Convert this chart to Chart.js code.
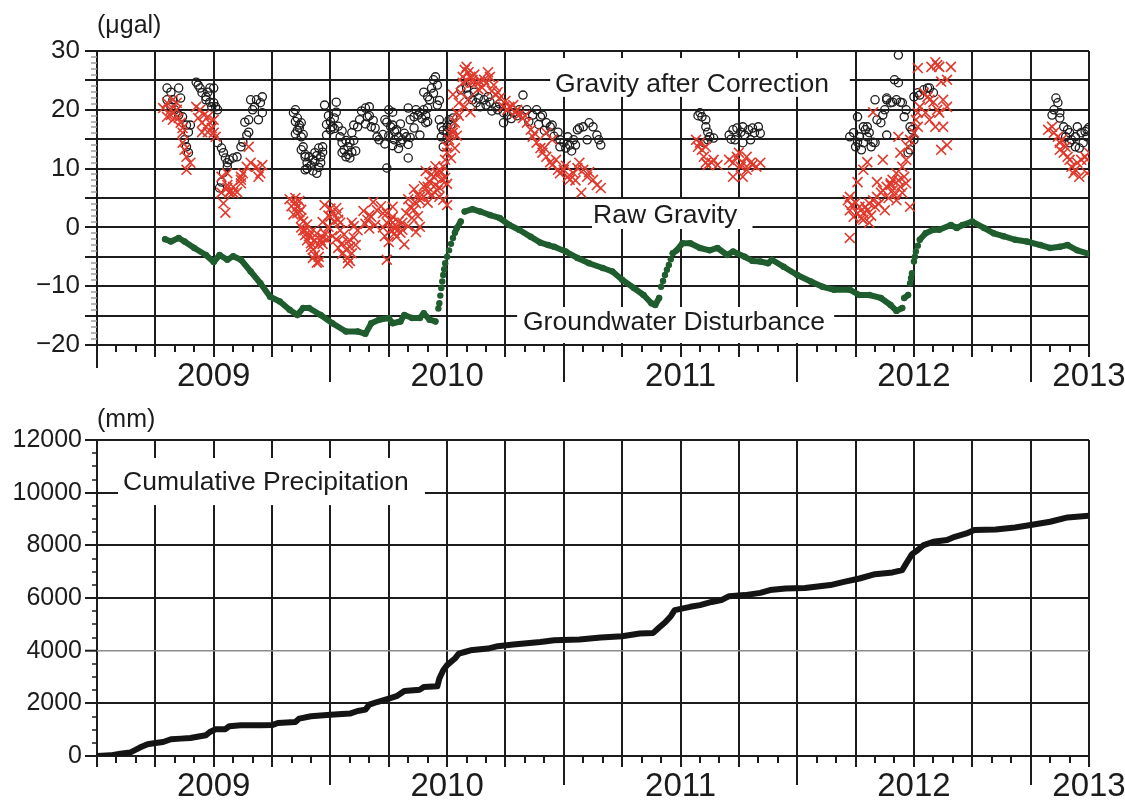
<!DOCTYPE html>
<html>
<head>
<meta charset="utf-8">
<script src="https://cdn.jsdelivr.net/npm/chart.js@4.4.0/dist/chart.umd.min.js"></script>
<style>
  body { margin: 0; background: #fff; }
  canvas { display: block; }
</style>
</head>
<body>
<canvas id="gravity" width="1125" height="400"></canvas>
<canvas id="rain" width="1125" height="401"></canvas>
<script>
// x values are months since 1 Jan 2009 (0 = 2009-01, 51 = 2013-04)
const yearLabels = ["2009", "2010", "2011", "2012", "2013"];
const yearLabelAt = [6, 18, 30, 42, 51];

// Gravity after Correction (open circles), [month, µgal]
const corrected = [
  [3.6,23.7],[3.8,23.0],[4.2,23.7],[3.6,21.7],[3.9,21.7],[4.3,22.0],[3.8,20.5],[4.0,20.0],[4.2,19.1],[4.4,18.8],
  [4.6,17.4],[4.8,17.4],[4.7,16.2],[4.5,14.9],[4.6,13.7],[4.7,12.7],
  [5.1,24.7],[5.2,24.2],[5.3,23.7],[5.4,22.9],[5.6,22.2],[5.7,23.0],[5.8,23.7],[6.0,23.7],[5.6,21.7],[5.8,21.3],
  [6.0,21.2],[6.1,20.5],[6.2,20.0],[5.9,20.5],
  [6.2,14.4],[6.4,13.5],[6.5,12.7],[6.6,11.8],[6.7,11.0],[6.7,10.3],[6.5,9.3],[6.4,7.7],[6.3,6.7],[6.8,11.5],
  [7.0,11.8],[7.2,12.0],[7.4,13.7],[7.5,14.5],[7.7,15.7],[7.8,16.2],[7.9,21.7],[8.0,20.0],[8.2,21.7],[8.4,21.2],
  [8.5,19.5],[8.3,18.3],[7.8,18.3],[7.6,17.9],[8.1,20.5],[8.5,22.2],
  [10.2,20.0],[10.3,18.6],[10.4,17.4],[10.4,16.9],[10.5,15.4],[10.6,13.7],[10.7,12.0],[10.8,11.0],[10.7,9.8],
  [11.1,11.5],[11.2,12.7],[11.4,13.5],[11.5,12.0],[11.6,12.8],[11.6,13.7],[11.3,9.2],[11.8,15.7],[12.0,16.6],
  [12.1,17.1],[12.2,18.6],[12.3,19.6],[12.3,21.3],[12.5,15.4],[12.6,14.4],[12.6,12.7],[12.8,12.0],[12.9,13.7],
  [13.0,14.4],[13.1,16.1],[13.2,17.4],[13.4,17.1],[13.5,18.3],[13.8,20.3],[14.0,20.5],[13.9,18.8],[14.1,17.1],
  [14.4,15.4],[14.5,14.9],[14.9,17.9],[15.2,19.6],[15.2,17.4],[15.3,14.9],[14.9,10.1],
  [14.8,18.3],[15.0,20.0],[15.1,17.1],[15.3,16.3],[15.5,15.4],[15.6,14.4],[15.7,14.9],[15.9,15.4],[16.0,11.8],
  [16.1,18.3],[16.3,18.8],[16.5,19.1],[16.6,19.5],[16.8,20.0],[17.0,20.3],[17.1,21.7],[17.2,23.7],[17.3,25.1],
  [17.4,25.6],[17.5,24.2],[17.5,20.8],[16.6,15.7],[16.3,16.9],[16.9,17.8],[17.6,18.3],[17.7,17.1],[17.7,15.4],
  [17.8,13.7],[18.0,17.1],[18.1,18.3],[18.3,18.6],[18.0,16.1],
  [10.1,19.5],[10.2,18.0],[10.3,16.5],[10.5,17.8],[10.6,15.8],[10.2,15.9],[10.5,13.2],[10.7,12.4],[10.9,12.0],
  [11.0,10.5],[11.2,11.2],[11.4,10.2],[11.5,11.0],[10.8,10.0],[11.1,9.6],[11.3,12.2],[11.7,20.8],[11.9,19.0],
  [12.0,18.0],[12.2,16.8],[11.8,17.5],[12.4,17.2],[12.6,16.4],[12.8,14.8],[12.7,13.2],[12.9,12.4],[13.1,12.8],
  [13.0,11.8],[13.3,13.0],[13.2,14.8],[13.6,19.8],[13.8,17.6],[14.0,19.0],[14.2,18.2],[14.3,16.9],[14.7,15.8],
  [14.8,14.2],[15.0,15.6],[15.2,13.9],[15.4,16.6],[15.5,13.4],[15.6,17.6],[15.8,16.0],[16.0,14.1],[16.1,15.3],
  [16.0,20.3],[16.4,20.0],[16.7,18.5],[16.9,19.0],[17.0,18.0],[16.8,23.0],[17.0,22.2],[17.3,22.8],[17.6,21.6],
  [17.8,16.5],[18.0,15.2],[18.2,17.5],[18.3,15.8],
  [18.7,23.4],[19.0,23.7],[19.2,24.6],[19.3,21.7],[19.5,21.2],[19.7,20.5],[19.9,21.7],[20.1,22.2],[20.2,21.3],
  [20.5,20.5],[20.6,20.0],[20.9,19.5],[20.9,17.8],[21.1,19.1],[21.4,19.5],[21.7,20.0],[21.9,22.5],[22.1,20.0],
  [22.4,19.1],[22.6,20.0],[22.8,18.8],[22.9,19.1],[23.1,17.8],[23.3,17.1],[23.4,17.4],[23.7,16.2],[23.8,14.9],
  [24.0,14.4],[24.2,15.4],[24.3,14.0],[24.5,14.9],[24.7,16.6],[24.8,16.9],[25.0,17.1],[25.2,14.9],[25.3,17.8],
  [25.5,17.1],[25.7,15.7],[25.8,14.9],[25.9,14.0],[23.8,13.7],
  [19.1,22.5],[19.4,23.0],[19.6,22.0],[20.0,20.8],[20.3,19.8],[20.7,21.0],[21.3,18.5],[21.6,19.0],[22.2,18.0],
  [22.7,17.5],[23.0,16.5],[23.5,15.5],[24.1,13.5],[24.4,13.0],[24.6,14.0],
  [31.0,19.5],[31.1,18.8],[31.3,18.3],[31.3,17.1],[31.4,16.2],[31.5,15.4],[31.7,15.2],[31.4,14.9],[31.2,14.4],
  [30.9,19.0],
  [32.5,15.7],[32.7,16.6],[32.9,16.9],[33.1,16.2],[33.2,17.1],[33.3,15.7],[33.5,16.6],[33.7,16.9],[33.8,16.1],
  [34.0,17.1],[32.8,14.9],[33.2,14.4],[33.6,14.9],[34.1,16.0],[32.6,15.0],
  [38.7,15.4],[38.9,16.1],[39.0,13.7],[39.1,14.5],[39.2,15.4],[39.3,13.2],[39.4,14.4],[39.5,16.6],[39.6,17.1],
  [39.6,15.4],[39.7,16.1],[39.8,13.7],[39.9,14.5],[40.0,14.4],[39.1,18.8],[39.4,17.1],[40.0,21.7],[40.1,18.3],
  [40.3,17.8],[40.4,19.1],[40.5,20.0],[40.6,21.7],[40.6,22.0],[40.8,21.2],[40.9,21.3],[41.1,21.7],[41.3,21.3],
  [41.4,21.2],[41.5,18.8],[41.6,20.0],[41.8,17.1],[41.9,16.6],[42.0,14.9],[41.8,13.2],[41.7,12.7],[40.6,15.7],
  [41.0,25.1],[41.2,24.6],[41.2,29.3],[42.0,22.2],[42.2,22.9],[42.3,22.5],[42.5,23.4],[42.7,23.7],[42.8,23.7],
  [43.0,22.9],
  [49.3,22.0],[49.4,21.2],[49.2,20.0],[49.1,19.1],[49.5,19.5],[49.5,18.6],[49.7,17.1],[49.9,16.6],[50.0,16.1],
  [50.1,14.9],[50.3,15.4],[50.4,17.1],[50.6,16.1],[50.7,14.4],[50.9,15.4],[50.9,16.6],[49.8,15.4],[50.0,14.4],
  [50.3,13.7],[50.5,13.5],[50.8,16.3],[51.0,17.0]
];

// Raw Gravity (red crosses), [month, µgal]
const rawGravity = [
  [3.4,20.3],[3.6,21.2],[3.9,21.7],[4.1,21.2],[3.8,19.1],[3.9,18.3],[4.2,18.6],[4.3,17.8],[4.4,16.9],[4.4,16.1],
  [4.4,14.4],[4.5,13.2],[4.6,12.0],[4.6,9.8],[4.8,11.0],[3.8,20.0],[4.1,20.0],[3.6,18.8],
  [5.1,20.5],[5.3,20.0],[5.2,18.6],[5.4,17.8],[5.6,17.1],[5.7,16.2],[5.7,18.8],[5.8,17.8],[5.9,16.9],[6.0,16.1],
  [6.1,15.4],[5.4,16.2],[5.5,19.1],[6.0,18.3],
  [6.4,8.6],[6.7,7.2],[6.8,6.0],[7.0,5.9],[7.4,8.6],[7.5,9.2],[7.7,10.3],[7.9,11.0],[7.8,13.7],[8.2,10.3],
  [8.4,9.2],[8.5,10.6],[8.3,8.6],[7.4,8.1],[6.7,9.2],[6.4,5.9],[6.5,4.1],[6.6,2.5],[6.7,6.7],[6.8,5.9],
  [7.0,6.9],[7.2,6.0],[7.4,7.5],
  [10.2,4.3],[10.3,3.5],[10.4,2.6],[10.3,2.4],[10.5,1.6],[10.6,-0.5],[10.7,-1.3],[10.8,-2.2],[11.0,-2.7],
  [11.1,-3.8],[11.2,-4.7],[11.4,-5.9],[11.5,-2.2],[11.6,-1.7],[11.7,-1.0],[11.9,0.1],[12.0,1.8],[12.1,2.6],
  [12.3,3.3],[12.4,1.3],[12.5,0.8],[12.6,-2.7],[12.8,-3.8],[12.9,-5.2],[12.9,-6.1],[13.0,-3.3],[13.2,-1.7],
  [13.4,-0.5],[13.1,0.8],[13.9,1.3],[14.0,2.1],[14.2,4.3],[14.9,-5.5],[14.9,2.4],[15.2,0.8],[15.3,-1.0],
  [11.6,0.9],[10.2,5.0],
  [9.9,4.8],[10.0,3.6],[10.1,2.2],[10.4,4.5],[10.5,3.0],[10.6,1.0],[10.8,0.5],[10.5,0.0],[10.7,-0.5],[10.9,-1.5],
  [11.0,-0.8],[11.2,-2.2],[11.3,-1.0],[11.4,-3.0],[11.6,-2.8],[11.8,-2.0],[11.0,-3.3],[11.1,-5.2],[11.3,-6.0],
  [11.4,-5.0],[11.7,3.8],[11.9,2.0],[12.0,3.2],[12.2,1.0],[12.4,2.5],[12.1,-1.5],[12.3,-2.0],[12.4,-3.5],
  [12.6,-4.5],[12.7,-1.2],[12.9,-2.4],[13.1,-4.4],[13.3,-3.0],[13.0,-5.7],[12.5,-0.5],[13.2,0.2],[13.7,2.8],
  [13.8,0.6],[14.0,-0.2],[14.1,1.8],[14.3,0.4],[14.4,2.9],[14.6,3.6],[14.7,0.0],[14.8,-1.5],[15.0,-2.5],
  [15.1,1.2],[15.3,-0.2],[15.4,-1.6],[15.5,1.0],[15.7,-0.4],[15.8,-2.9],[16.0,0.2],[16.2,1.6],[16.4,-0.8],
  [16.5,1.9],[16.0,4.8],[16.3,6.5],[16.5,5.5],[16.8,7.0],[17.0,4.2],[17.2,5.6],[17.4,7.2],[17.6,6.8],[17.8,4.7],
  [18.0,3.8],[16.9,9.6],[17.2,9.0],[17.4,10.4],[17.7,9.4],[17.9,8.4],[18.0,7.4],[18.2,11.8],[18.4,13.5],
  [18.5,15.6],[18.2,15.8],[18.3,22.6],[18.6,19.0],[18.9,20.5],[19.1,21.8],[19.2,19.6],
  [14.7,2.4],[14.9,0.8],[15.1,-0.5],[15.2,1.8],[15.4,0.1],[15.6,-0.9],[15.7,0.8],[15.9,2.4],[16.1,3.5],
  [16.3,3.0],[16.4,4.1],[16.6,4.6],[16.8,5.2],[17.0,5.9],[17.5,6.3],[17.6,5.2],[16.6,0.1],[15.2,3.5],
  [16.6,5.2],[17.0,6.9],[17.1,7.7],[17.3,8.6],[17.5,9.2],[17.6,9.8],[17.7,8.1],[17.8,10.3],[17.9,11.5],
  [18.0,12.7],[18.0,13.7],[18.1,14.9],[18.3,16.1],[18.3,16.6],[18.4,17.8],[18.5,19.5],[18.6,21.2],[18.7,22.9],
  [18.8,24.6],[18.8,25.6],[18.9,26.8],[19.0,27.3],[19.1,26.4],[19.2,25.6],[19.3,24.6],[19.3,25.1],[19.5,24.6],
  [19.7,24.8],[19.9,25.1],[20.1,26.4],[20.2,25.6],[20.4,24.2],[20.6,23.0],[20.7,22.0],[20.9,20.5],[21.1,20.0],
  [21.2,20.5],[21.4,20.8],[21.6,20.0],[21.7,19.1],[21.9,18.6],[22.1,17.8],[22.3,16.6],[22.4,15.4],[22.6,14.4],
  [22.8,13.5],[22.9,12.7],[23.1,12.0],[23.3,11.1],[23.4,10.6],[23.7,9.8],[23.8,9.2],[24.0,9.8],[24.2,8.6],
  [24.3,8.1],[24.5,9.2],[24.7,10.1],[24.8,11.0],[25.0,9.8],[25.2,8.6],[25.3,9.4],[25.5,8.1],[25.7,7.2],
  [25.9,6.7],[24.9,5.9],[23.1,16.1],[23.4,14.9],
  [19.0,25.0],[19.4,26.0],[19.6,23.5],[19.8,23.8],[20.0,24.5],[20.3,23.2],[20.5,22.5],[21.0,21.5],[21.5,19.5],
  [22.0,19.0],[22.5,16.0],[23.0,13.5],[23.6,11.5],[24.1,10.5],[24.6,8.0],
  [30.8,14.9],[31.0,14.4],[31.1,13.2],[31.2,12.0],[31.3,11.0],[31.4,10.6],[31.6,11.0],[31.7,11.5],[31.9,10.6],
  [31.3,13.7],[30.9,13.7],
  [32.5,11.5],[32.7,11.0],[32.9,12.0],[33.1,10.3],[33.2,11.0],[33.4,9.8],[33.6,11.0],[33.7,10.6],[33.9,10.3],
  [34.1,11.0],[32.7,8.6],[33.2,8.6],[33.4,12.0],[33.0,12.7],
  [38.6,4.6],[38.7,2.9],[38.9,1.8],[39.1,2.4],[39.2,3.5],[39.4,2.4],[39.6,2.9],[39.7,4.1],[39.9,4.6],[40.1,5.2],
  [40.3,5.9],[40.4,6.3],[40.6,6.9],[40.8,7.5],[40.9,6.3],[41.1,4.6],[41.3,6.9],[41.4,5.9],[41.6,7.5],[41.8,3.5],
  [38.7,-1.8],[39.4,1.3],[39.7,0.8],[40.5,2.9],[38.7,5.2],[39.1,7.7],[39.4,9.8],[39.6,11.1],[39.9,19.6],
  [40.1,7.7],[40.4,11.5],[40.8,7.2],[40.9,8.1],[41.1,9.2],[41.2,15.4],[41.3,12.7],[41.4,10.3],[41.5,8.6],
  [41.6,11.5],[41.7,13.7],[41.8,14.9],[42.0,16.1],[42.1,18.3],[42.2,17.1],[42.2,19.5],[42.3,20.5],
  [38.8,3.8],[39.0,4.2],[39.3,1.5],[39.5,3.5],[39.8,2.0],[40.0,3.5],[40.2,4.0],[40.7,5.0],[41.0,5.5],[41.2,8.0],
  [42.2,27.1],[42.5,22.9],[42.7,22.2],[42.8,21.7],[43.0,21.3],[42.9,27.3],[43.1,28.1],[43.2,27.6],[43.3,27.3],
  [43.4,24.8],[43.5,21.7],[43.7,20.5],[43.7,25.1],[43.9,27.3],[43.2,20.0],[43.3,19.5],[43.5,17.1],[43.4,13.2],
  [43.7,14.0],[43.1,17.1],[42.6,19.5],[42.8,18.3],
  [48.9,16.6],[49.1,17.1],[49.2,16.1],[49.4,15.4],[49.5,14.4],[49.5,13.2],[49.7,12.7],[49.9,12.0],[50.0,11.5],
  [50.1,10.3],[50.3,9.8],[50.4,11.0],[50.6,11.5],[50.8,12.0],[50.9,11.5],[51.0,12.7],[50.2,9.2],[50.5,8.6],
  [50.9,9.2],[49.8,13.7],[49.6,14.9]
];

// Groundwater Disturbance (green dots), [month, µgal]
const groundwater = [
  [3.5,-2.0],[3.8,-2.4],[4.2,-1.8],[4.5,-2.4],[5.0,-3.5],[5.6,-4.7],[6.0,-5.9],[6.3,-4.7],[6.7,-5.5],[7.0,-4.9],
  [7.4,-5.5],[7.9,-7.5],[8.4,-9.5],[8.9,-11.8],[9.4,-12.6],[9.9,-14.0],[10.3,-14.9],[10.6,-13.7],[10.9,-13.7],
  [11.5,-14.9],[12.1,-16.3],[12.8,-17.7],[13.4,-17.7],[13.8,-18.1],[14.1,-16.3],[14.5,-15.7],[15.0,-15.4],
  [15.2,-16.3],[15.6,-16.0],[15.8,-14.9],[16.2,-15.4],[16.6,-15.4],[16.8,-14.6],[17.1,-15.7],[17.4,-16.0],
  [17.55,-13.8],[17.6,-12.9],[17.65,-11.6],[17.7,-10.3],[17.75,-9.2],[17.8,-8.1],[17.85,-7.1],[17.9,-6.1],
  [18.0,-5.0],[18.1,-3.9],[18.2,-2.8],[18.3,-1.8],[18.4,-0.9],[18.5,-0.1],[18.7,1.0],[18.9,2.7],[19.3,3.1],
  [19.7,2.7],[20.2,2.1],[20.7,1.6],[21.2,0.4],[21.7,-0.4],[22.3,-1.6],[22.8,-2.6],[23.2,-3.0],[23.5,-3.3],
  [24.1,-4.1],[24.7,-5.2],[25.3,-6.1],[26.0,-6.9],[26.5,-7.5],[27.0,-8.9],[27.6,-10.3],[28.1,-11.5],[28.5,-12.9],
  [28.7,-13.2],[28.9,-12.0],[29.0,-10.1],[29.1,-9.1],[29.2,-8.1],[29.3,-7.2],[29.4,-6.4],[29.5,-5.4],[29.6,-4.4],
  [29.8,-3.9],[30.1,-2.7],[30.5,-2.7],[31.0,-3.5],[31.5,-3.9],[31.9,-3.5],[32.4,-4.7],[32.7,-4.1],[33.3,-5.0],
  [33.7,-5.7],[34.1,-5.8],[34.5,-6.1],[34.7,-5.5],[35.3,-6.7],[36.0,-8.1],[36.7,-9.2],[37.3,-10.1],[37.9,-10.6],
  [38.7,-10.6],[39.2,-11.5],[39.7,-11.5],[40.3,-12.0],[40.8,-13.2],[41.1,-14.2],[41.4,-13.7],[41.5,-12.0],
  [41.7,-11.5],[41.8,-9.5],[41.85,-8.6],[41.9,-7.8],[42.0,-5.8],[42.05,-5.0],[42.1,-4.1],[42.2,-3.1],[42.3,-2.1],
  [42.6,-1.0],[43.0,-0.4],[43.3,-0.4],[43.9,0.4],[44.2,-0.1],[44.5,0.4],[45.0,1.0],[45.6,-0.1],[46.1,-1.0],
  [46.6,-1.5],[47.2,-2.1],[47.8,-2.4],[48.5,-3.0],[49.0,-3.5],[49.5,-3.3],[49.9,-3.0],[50.4,-3.9],[51.0,-4.5]
];

// Cumulative Precipitation, [month, mm]
const precip = [
  [0,0],[0.7,25],[1.2,90],[1.7,130],[2.0,240],[2.2,320],[2.6,445],[3.0,495],[3.4,530],[3.8,635],[4.3,660],
  [4.8,685],[5.3,750],[5.6,785],[5.8,910],[6.1,1015],[6.6,1020],[6.8,1130],[7.4,1165],[8.4,1170],[9.0,1175],
  [9.3,1255],[10.2,1290],[10.4,1420],[11.0,1510],[12.0,1570],[13.0,1610],[13.4,1710],[13.8,1760],[14.0,1950],
  [14.4,2050],[15.0,2180],[15.4,2270],[15.8,2470],[16.6,2520],[16.8,2620],[17.5,2650],[17.6,2940],[17.8,3255],
  [18.0,3450],[18.4,3700],[18.6,3890],[18.9,3950],[19.2,4015],[20.1,4080],[20.6,4170],[21.4,4235],[22.8,4330],
  [23.5,4395],[24.8,4420],[25.9,4500],[27.0,4550],[27.9,4650],[28.6,4675],[28.9,4880],[29.2,5070],[29.5,5310],
  [29.7,5540],[30.5,5665],[31.0,5730],[31.6,5850],[32.1,5920],[32.5,6070],[33.3,6110],[34.1,6195],[34.6,6300],
  [35.4,6360],[36.4,6380],[37.7,6490],[38.4,6610],[39.2,6740],[40.0,6905],[40.9,6970],[41.4,7060],[41.6,7310],
  [41.9,7665],[42.2,7820],[42.5,8010],[43.0,8135],[43.7,8200],[44.1,8325],[44.7,8450],[45.1,8580],[46.2,8605],
  [47.2,8680],[48.0,8770],[49.0,8895],[49.9,9060],[51.0,9120]
];

const FONT = "'Liberation Sans', Arial, sans-serif";
const INK = "#1c1c1c";
const RED = "#e0392c";
const GREEN = "#1f5d2e";
const NONE = "rgba(0,0,0,0)";

const toXY = (arr) => arr.map((p) => ({ x: p[0], y: p[1] }));
const minus = (v) => (v < 0 ? "\u2212" + Math.abs(v) : String(v));

// white label boxes and free texts, placed in data coordinates
const textBoxes = {
  id: "textBoxes",
  beforeDatasetsDraw(chart, args, opts) {
    const ctx = chart.ctx;
    const xs = chart.scales.x;
    const ys = chart.scales.y;
    ctx.save();
    (opts.items || []).forEach((it) => {
      if (it.box) {
        const x0 = xs.getPixelForValue(it.box[0]);
        const x1 = xs.getPixelForValue(it.box[1]);
        const y0 = ys.getPixelForValue(it.box[3]);
        const y1 = ys.getPixelForValue(it.box[2]);
        ctx.fillStyle = "#fff";
        ctx.fillRect(x0, y0, x1 - x0, y1 - y0);
      }
      ctx.fillStyle = INK;
      ctx.font = it.size + "px " + FONT;
      ctx.textAlign = "left";
      ctx.textBaseline = "alphabetic";
      ctx.fillText(it.text, xs.getPixelForValue(it.at[0]), ys.getPixelForValue(it.at[1]));
    });
    ctx.restore();
  },
};

function monthAxis(o) {
  return {
    type: "linear",
    min: 0,
    max: 51,
    afterBuildTicks: (s) => {
      s.ticks = [];
      for (let m = 0; m <= 51; m++) s.ticks.push({ value: m });
    },
    afterFit: (s) => {
      s.height = o.height;
    },
    ticks: {
      autoSkip: false,
      maxRotation: 0,
      minRotation: 0,
      padding: o.pad,
      color: INK,
      font: { family: FONT, size: 33 },
      callback: (v) => {
        const i = yearLabelAt.indexOf(v);
        return i < 0 ? "" : yearLabels[i];
      },
    },
    grid: {
      tickLength: o.yearTick,
      lineWidth: 2,
      color: (c) => (c.tick.value % 3 === 0 ? INK : NONE),
      tickColor: INK,
      tickWidth: 2,
      tickBorderDash: (c) => {
        const m = c.tick.value;
        if (m === 0) return [o.edgeTick, 200];
        if (m % 12 === 0) return [];
        if (m % 3 === 0) return [o.quarterTick, 200];
        return [7, 200];
      },
    },
    border: { display: false },
  };
}

const common = {
  responsive: false,
  animation: false,
  events: [],
  plugins: { legend: { display: false }, tooltip: { enabled: false } },
};

new Chart(document.getElementById("gravity"), {
  type: "scatter",
  data: {
    datasets: [
      {
        data: toXY(rawGravity),
        pointStyle: "crossRot",
        pointRadius: 7,
        pointBorderWidth: 1.6,
        borderColor: RED,
        backgroundColor: RED,
        order: 1,
      },
      {
        data: toXY(corrected),
        pointStyle: "circle",
        pointRadius: 4.1,
        pointBorderWidth: 1.3,
        borderColor: INK,
        backgroundColor: NONE,
        order: 2,
      },
      {
        data: toXY(groundwater),
        showLine: true,
        borderWidth: 6,
        borderColor: GREEN,
        borderCapStyle: "round",
        borderJoinStyle: "round",
        pointRadius: 3.2,
        pointBorderWidth: 0,
        backgroundColor: GREEN,
        segment: {
          borderColor: (c) => {
            const a = c.p0.parsed, b = c.p1.parsed;
            return Math.abs((b.y - a.y) / (b.x - a.x)) > 8 ? NONE : GREEN;
          },
        },
        order: 3,
      },
    ],
  },
  options: {
    ...common,
    layout: { padding: { left: 0, top: 51, right: 36, bottom: 0 } },
    scales: {
      x: monthAxis({ height: 55, yearTick: 37, quarterTick: 12, edgeTick: 23, pad: -25 }),
      y: {
        type: "linear",
        min: -20,
        max: 30,
        afterBuildTicks: (s) => {
          s.ticks = [];
          for (let v = -20; v <= 30; v++) s.ticks.push({ value: v });
        },
        afterFit: (s) => {
          s.width = 97;
        },
        ticks: {
          autoSkip: false,
          padding: 5,
          color: INK,
          font: { family: FONT, size: 26 },
          callback: (v) => (v % 10 === 0 ? minus(v) : ""),
        },
        grid: {
          tickLength: 12,
          lineWidth: 2,
          color: (c) => (c.tick.value % 5 === 0 ? INK : NONE),
          tickColor: (c) => (c.tick.value % 5 === 0 ? INK : "#9d9d9d"),
          tickWidth: (c) => (c.tick.value % 5 === 0 ? 2 : 1.5),
          tickBorderDash: (c) => (c.tick.value % 5 === 0 ? [] : [0, 6, 6, 0]),
        },
        border: { display: false },
      },
    },
    plugins: {
      ...common.plugins,
      textBoxes: {
        items: [
          { text: "(\u03bcgal)", at: [0, 33.1], size: 25 },
          { text: "Gravity after Correction", box: [23.3, 38.7, 22.2, 28.8], at: [23.55, 23.0], size: 26.5 },
          { text: "Raw Gravity", box: [25.45, 33.7, -0.27, 4.83], at: [25.5, 0.75], size: 26.5 },
          { text: "Groundwater Disturbance", box: [21.6, 37.9, -19.66, -13.54], at: [21.9, -17.45], size: 26.5 },
        ],
      },
    },
  },
  plugins: [textBoxes],
});

new Chart(document.getElementById("rain"), {
  type: "scatter",
  data: {
    datasets: [
      {
        data: toXY(precip),
        showLine: true,
        borderWidth: 6,
        borderColor: "#141414",
        borderJoinStyle: "round",
        borderCapStyle: "round",
        pointRadius: 0,
      },
    ],
  },
  options: {
    ...common,
    layout: { padding: { left: 0, top: 40, right: 36, bottom: 0 } },
    scales: {
      x: monthAxis({ height: 45, yearTick: 29, quarterTick: 11, edgeTick: 11, pad: -18 }),
      y: {
        type: "linear",
        min: 0,
        max: 12000,
        afterBuildTicks: (s) => {
          s.ticks = [];
          for (let v = 0; v <= 12000; v += 500) s.ticks.push({ value: v });
        },
        afterFit: (s) => {
          s.width = 97;
        },
        ticks: {
          autoSkip: false,
          padding: 3,
          color: INK,
          font: { family: FONT, size: 25 },
          callback: (v) => (v % 2000 === 0 ? String(v) : ""),
        },
        grid: {
          tickLength: 12,
          lineWidth: (c) => (c.tick.value === 4000 ? 1.4 : 2),
          color: (c) => (c.tick.value % 2000 !== 0 ? NONE : c.tick.value === 4000 ? "#8c8c8c" : INK),
          tickColor: INK,
          tickWidth: (c) => (c.tick.value % 2000 === 0 ? 2 : 1.5),
          tickBorderDash: (c) => (c.tick.value % 2000 === 0 ? [] : [0, 7, 5, 0]),
        },
        border: { display: false },
      },
    },
    plugins: {
      ...common.plugins,
      textBoxes: {
        items: [
          { text: "(mm)", at: [0, 12494], size: 25 },
          { text: "Cumulative Precipitation", box: [1.08, 16.86, 9529, 11316], at: [1.34, 10100], size: 26.5 },
        ],
      },
    },
  },
  plugins: [textBoxes],
});
</script>
</body>
</html>
